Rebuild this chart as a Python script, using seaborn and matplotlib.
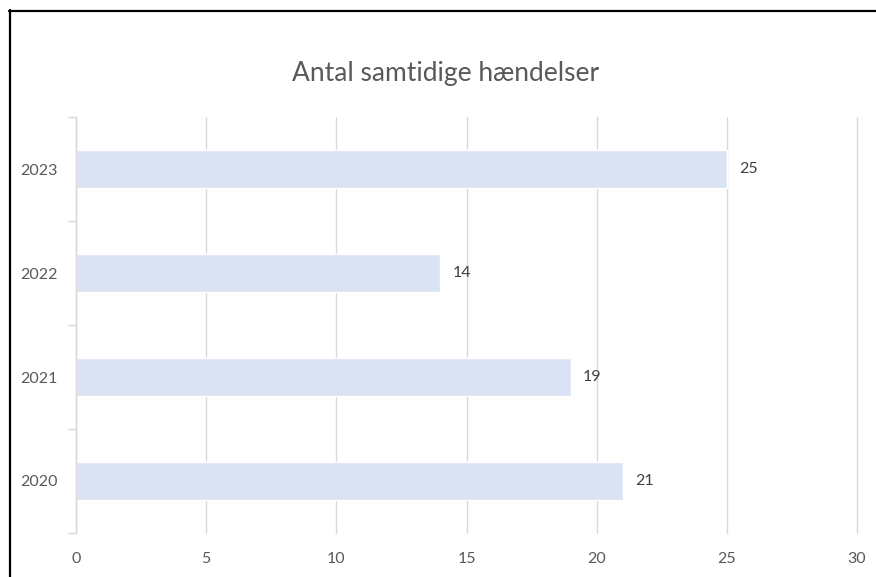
import pandas as pd
import numpy as np
import matplotlib.pyplot as plt
import seaborn as sns
from matplotlib.lines import Line2D

sns.set_style("white")
plt.rcParams['font.family'] = ['Lato', 'DejaVu Sans']

# Data
aar = ['2023', '2022', '2021', '2020']
antal = [25, 14, 19, 21]

df = pd.DataFrame({'aar': aar, 'antal': antal})

fig = plt.figure(figsize=(8.76, 5.77), dpi=100)
ax = fig.add_axes([0.0868, 0.0763, 0.8915, 0.7207])

sns.barplot(data=df, x='antal', y='aar', order=aar, orient='h',
            color='#DAE3F3', saturation=1, width=0.365, ax=ax, zorder=2)

ax.set_xlim(0, 30)
ax.set_ylim(3.5, -0.5)
ax.set_xticks(np.arange(0, 31, 5))
ax.xaxis.grid(True, color='#D9D9D9', linewidth=1, zorder=0)
for gl in ax.get_xgridlines():
    gl.set_clip_on(False)
ax.set_axisbelow(True)

for s in ['top', 'right', 'bottom']:
    ax.spines[s].set_visible(False)
ax.spines['left'].set_color('#D9D9D9')
ax.spines['left'].set_linewidth(1)

# y ticks at category boundaries (Excel style)
ax.set_yticks(np.arange(-0.5, 4, 1), minor=False)
ax.set_yticklabels([])
ax.tick_params(axis='y', which='major', left=True, length=6, color='#D9D9D9', width=1)
ax.set_yticks(range(len(aar)), minor=True)
ax.set_yticklabels(aar, minor=True)
ax.tick_params(axis='y', which='minor', left=True, length=0, pad=13, labelsize=11.5, labelcolor='#595959')
ax.tick_params(axis='x', length=0, pad=14, labelsize=11.5, labelcolor='#595959')

ax.set_xlabel('')
ax.set_ylabel('')

ax.bar_label(ax.containers[0], padding=9, fontsize=11.5, color='#404040')

fig.text(0.509, 0.872, 'Antal samtidige hændelser', ha='center', va='center',
         fontsize=19, color='#595959')

# frame lines of the screenshot
fig.add_artist(Line2D([9.5/876, 9.5/876], [0, 1 - 10/577], color='black', linewidth=1.6))
fig.add_artist(Line2D([9/876, 1], [1 - 10.5/577, 1 - 10.5/577], color='black', linewidth=1.6))

fig.savefig('out.png', dpi=100)
